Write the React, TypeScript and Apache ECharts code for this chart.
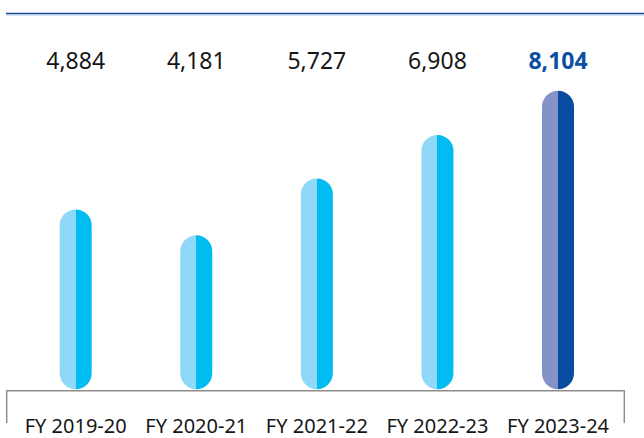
import React, { useEffect, useRef } from "react";
import * as echarts from "echarts";

const categories = ["FY 2019-20", "FY 2020-21", "FY 2021-22", "FY 2022-23", "FY 2023-24"];
const values = [4884, 4181, 5727, 6908, 8104];
const valueLabels = values.map((v) => v.toLocaleString("en-US"));
const highlightIndex = 4;

const normalColors = ["#8fd8f7", "#00bcf1"];
const highlightColors = ["#8592c7", "#0a4ca1"];

function splitGradient(c: string[]) {
  return new echarts.graphic.LinearGradient(0, 0, 1, 0, [
    { offset: 0, color: c[0] },
    { offset: 0.5, color: c[0] },
    { offset: 0.5, color: c[1] },
    { offset: 1, color: c[1] },
  ]);
}

export default function App() {
  const ref = useRef<HTMLDivElement>(null);

  useEffect(() => {
    if (!ref.current) return;
    const chart = echarts.init(ref.current, undefined, { renderer: "svg" });
    const font = "'Noto Sans', 'Open Sans', sans-serif";
    chart.setOption({
      animation: false,
      backgroundColor: "#ffffff",
      grid: { left: 15.4, right: 25.7, top: 68.9, bottom: 48.7 },
      xAxis: [
        {
          type: "category",
          data: categories,
          position: "bottom",
          axisLine: { show: false },
          axisTick: { show: false },
          axisLabel: {
            interval: 0,
            margin: 26,
            fontSize: 20,
            color: "#161616",
            fontFamily: font,
          },
        },
        {
          type: "category",
          data: valueLabels,
          position: "top",
          offset: -2.5,
          axisLine: { show: false },
          axisTick: { show: false },
          axisLabel: {
            interval: 0,
            margin: 0,
            fontSize: 23,
            color: "#161616",
            fontFamily: font,
            formatter: (v: string, i: number) => (i === highlightIndex ? `{b|${v}}` : v),
            rich: {
              b: { fontSize: 23, fontWeight: "bold", color: "#0b4fa3", fontFamily: font },
            },
          },
        },
      ],
      yAxis: {
        type: "value",
        min: 0,
        max: 8700,
        show: false,
        splitLine: { show: false },
      },
      series: [
        {
          type: "bar",
          xAxisIndex: 0,
          barWidth: 32,
          data: values.map((v, i) => ({
            value: v,
            itemStyle: {
              color: splitGradient(i === highlightIndex ? highlightColors : normalColors),
              borderRadius: 16,
            },
          })),
        },
      ],
      graphic: [
        {
          type: "line",
          shape: { x1: 6, y1: 13.5, x2: 644, y2: 13.5 },
          style: { stroke: "#164a8e", lineWidth: 1.6 },
          silent: true,
        },
        {
          type: "line",
          shape: { x1: 6, y1: 15, x2: 644, y2: 15 },
          style: { stroke: "#a7c3e8", lineWidth: 1 },
          silent: true,
        },
        {
          type: "polyline",
          shape: {
            points: [
              [6.7, 423],
              [6.7, 390.7],
              [624.3, 390.7],
              [624.3, 423],
            ],
          },
          style: { stroke: "#8c8c8c", lineWidth: 1.4, fill: "none" },
          silent: true,
        },
      ],
    });
    return () => chart.dispose();
  }, []);

  return (
    <div
      ref={ref}
      style={{ position: "absolute", left: 0, top: 0, width: 644, height: 438 }}
    />
  );
}
